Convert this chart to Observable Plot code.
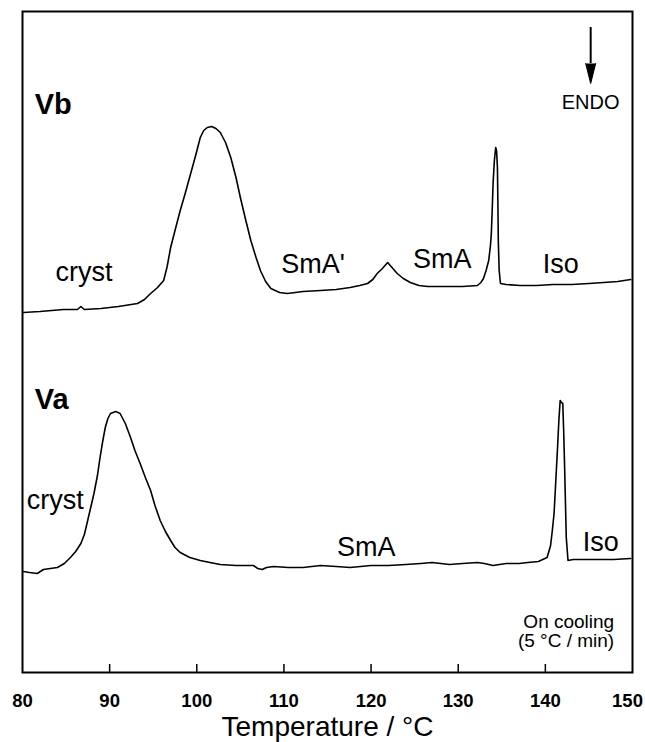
<!DOCTYPE html>
<html>
<head>
<meta charset="utf-8">
<script src="https://cdn.jsdelivr.net/npm/d3@7"></script>
<script src="https://cdn.jsdelivr.net/npm/@observablehq/plot@0.6"></script>
<style>
  html, body { margin: 0; padding: 0; background: #fff; }
</style>
</head>
<body>
<div id="chart"></div>
<script>
// ---- Data (temperature °C, heat flow in arbitrary units; endo down) ----
const vbT = [80.1, 82.0, 84.7, 86.3, 86.7, 87.1, 89.0, 91.0, 93.2, 94.0, 94.7, 95.5, 96.2, 96.6, 97.0, 97.5, 98.1, 98.7, 99.3, 99.9, 100.4, 100.8, 101.2, 101.7, 102.2, 102.7, 103.3, 103.9, 104.5, 105.0, 105.6, 106.2, 106.8, 107.3, 107.9, 108.5, 109.5, 110.4, 111.3, 112.2, 114.2, 116.0, 117.6, 118.7, 119.6, 120.2, 120.7, 121.3, 121.9, 122.4, 123.0, 123.7, 124.5, 125.5, 126.5, 128.5, 130.5, 132.2, 132.6, 132.9, 133.2, 133.5, 133.7, 133.8, 133.9, 134.0, 134.15, 134.3, 134.4, 134.5, 134.55, 134.6, 134.7, 134.85, 135.5, 137.1, 139.0, 140.9, 143.0, 145.0, 146.7, 148.3, 149.8];
const vbPix = [312, 311, 309, 309, 306, 309, 308, 306, 303, 299, 293, 287, 280, 266, 247, 230, 210, 192, 173, 154, 137, 130, 127, 126, 128, 132, 142, 157, 177, 197, 219, 240, 257, 270, 281, 288, 292, 293, 292, 291, 290, 289, 287, 285, 283, 279, 273, 268, 262, 267, 273, 278, 282, 285, 286, 286, 286, 285, 282, 278, 270, 260, 245, 233, 210, 183, 160, 147, 150, 167, 200, 240, 270, 283, 284, 285, 285, 284, 284, 283, 282, 281, 279];

const vaT = [80.1, 80.8, 81.7, 82.4, 83.2, 84.0, 84.8, 85.5, 86.1, 86.7, 87.1, 87.4, 87.8, 88.2, 88.6, 88.9, 89.2, 89.5, 89.8, 90.1, 90.7, 91.2, 91.8, 92.4, 92.9, 93.5, 94.1, 94.7, 95.2, 95.8, 96.4, 97.0, 97.5, 98.1, 99.2, 100.4, 101.5, 102.7, 104.5, 106.5, 107.0, 107.5, 108.0, 108.8, 110.5, 112.2, 114.2, 116.0, 117.6, 120.0, 122.0, 124.0, 125.7, 127.0, 129.0, 130.5, 132.2, 133.0, 134.0, 135.5, 137.0, 138.0, 139.2, 140.2, 140.6, 140.8, 141.0, 141.2, 141.4, 141.55, 141.7, 141.85, 142.0, 142.1, 142.2, 142.3, 142.4, 142.6, 143.2, 145.0, 147.8, 149.8];
const vaPix = [571, 572, 573, 569, 568, 567, 563, 557, 551, 543, 534, 523, 508, 493, 475, 457, 441, 427, 418, 413, 411, 413, 423, 437, 450, 463, 477, 490, 505, 520, 531, 540, 547, 552, 557, 560, 562, 564, 565, 565, 568, 569, 567, 566, 567, 567, 565, 566, 567, 565, 565, 564, 563, 562, 564, 563, 562, 563, 565, 563, 563, 562, 561, 557, 545, 530, 513, 480, 447, 420, 400, 402, 403, 430, 463, 500, 537, 560, 559, 559, 559, 558];

// signal values (a.u.) measured up from the bottom of the frame
const BASE = 672;
const vbY = vbPix.map(p => BASE - p);
const vaY = vaPix.map(p => BASE - p);

// tick labels
const xTicks = [80, 90, 100, 110, 120, 130, 140, 150];
const xLabel = "Temperature / °C";

// sample names
const sampleNames = ["Vb", "Va"];
const sampleT = [81.4, 81.4];
const sampleY = [559, 264];

// phase labels
const phaseText = ["cryst", "SmA'", "SmA", "Iso", "cryst", "SmA", "Iso"];
const phaseT = [83.8, 109.7, 124.8, 139.7, 80.5, 116.1, 144.3];
const phaseY = [392, 400, 405, 400, 164, 117, 122];

// ENDO arrow & note
const endoText = "ENDO";
const endoT = 145.2;
const endoY = 564;
const arrowTop = 645, arrowTip = 589;
const noteText = "On cooling\n(5 °C / min)";
const noteT = 147.9;
const noteY = 26;

// ---- Tables built from the arrays ----
const vb = vbT.map((t, i) => ({T: t, v: vbY[i]}));
const va = vaT.map((t, i) => ({T: t, v: vaY[i]}));
const samples = sampleNames.map((s, i) => ({s, T: sampleT[i], v: sampleY[i]}));
const phases = phaseText.map((s, i) => ({s, T: phaseT[i], v: phaseY[i]}));

const font = "'Liberation Sans', Arial, Helvetica, sans-serif";
const headLen = 20;
const tickStyle = {tickSize: 0, tickPadding: 21, fontSize: 18.5, fontWeight: "bold", label: null, tickFormat: d => String(d)};

const chart = Plot.plot({
  width: 645,
  height: 742,
  marginLeft: 22,
  marginRight: 13,
  marginTop: 11,
  marginBottom: 70,
  style: {fontFamily: font, background: "#fff", color: "#000", overflow: "visible"},
  x: {domain: [80, 150], axis: null},
  y: {domain: [0, 661], axis: null},
  marks: [
    Plot.frame({stroke: "#000", strokeWidth: 2}),
    Plot.ruleX(xTicks.slice(1, -1), {y1: 0, y2: 8, stroke: "#000", strokeWidth: 1.5}),
    Plot.axisX({ticks: xTicks.slice(0, -1), ...tickStyle}),
    Plot.axisX({ticks: xTicks.slice(-1), ...tickStyle, dx: -5}),
    Plot.text([xLabel], {frameAnchor: "bottom", dy: 63, fontSize: 28, lineAnchor: "bottom", fill: "#000"}),
    Plot.line(vb, {x: "T", y: "v", stroke: "#000", strokeWidth: 1.6}),
    Plot.line(va, {x: "T", y: "v", stroke: "#000", strokeWidth: 1.6}),
    Plot.text(samples, {x: "T", y: "v", text: "s", textAnchor: "start", lineAnchor: "bottom", fontSize: 29, fontWeight: "bold", fill: "#000"}),
    Plot.text(phases, {x: "T", y: "v", text: "s", textAnchor: "start", lineAnchor: "bottom", fontSize: 27, fill: "#000"}),
    Plot.text([endoText], {x: endoT, y: endoY, textAnchor: "middle", lineAnchor: "bottom", fontSize: 20, fill: "#000"}),
    Plot.ruleX([endoT], {y1: arrowTop, y2: arrowTip + headLen, stroke: "#000", strokeWidth: 2}),
    Plot.vector([endoT], {x: d => d, y: arrowTip + headLen, length: headLen, r: 5, rotate: 180, shape: "spike", anchor: "start", fill: "#000", fillOpacity: 1, stroke: "#000", strokeWidth: 1}),
    Plot.text([noteText], {x: noteT, y: noteY, textAnchor: "end", lineAnchor: "bottom", lineHeight: 1.0, fontSize: 19, fill: "#000"})
  ]
});
document.getElementById("chart").appendChild(chart);
</script>
</body>
</html>
